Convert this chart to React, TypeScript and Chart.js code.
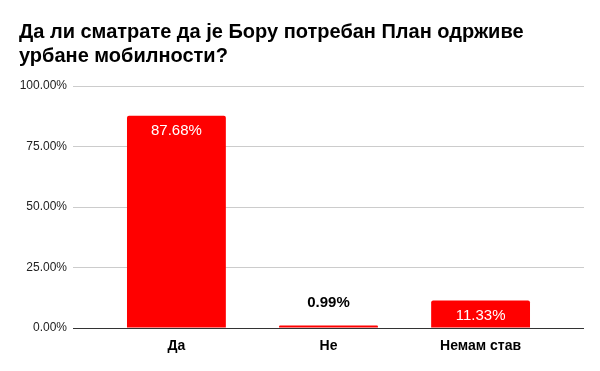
import React, { useEffect, useRef } from "react";
import { Chart, registerables } from "chart.js";

Chart.register(...registerables);

const categories = ["Да", "Не", "Немам став"];
const values = [87.68, 0.99, 11.33];
const valueLabels = ["87.68%", "0.99%", "11.33%"];
const yTicks = [0, 25, 50, 75, 100];
const titleLines = ["Да ли сматрате да је Бору потребан План одрживе", "урбане мобилности?"];

const FONT = "'Liberation Sans', Arial, sans-serif";

const dataLabelPlugin = {
  id: "dataLabels",
  afterDatasetsDraw(chart: any) {
    const ctx = chart.ctx;
    const meta = chart.getDatasetMeta(0);
    meta.data.forEach((bar: any, i: number) => {
      const h = bar.base - bar.y;
      ctx.save();
      ctx.textAlign = "center";
      ctx.textBaseline = "middle";
      if (h > 24) {
        ctx.font = "15px " + FONT;
        ctx.fillStyle = "#ffffff";
        ctx.fillText(valueLabels[i], bar.x, bar.y + 15);
      } else {
        ctx.font = "bold 15px " + FONT;
        ctx.fillStyle = "#000000";
        ctx.fillText(valueLabels[i], bar.x, bar.y - 23);
      }
      ctx.restore();
    });
  },
};

export default function App() {
  const ref = useRef<HTMLCanvasElement>(null);
  useEffect(() => {
    document.body.style.margin = "0";
    const chart = new Chart(ref.current!, {
      type: "bar",
      data: {
        datasets: [
          {
            data: values.map((v, i) => ({ x: i, y: v })),
            backgroundColor: "#ff0000",
            borderRadius: { topLeft: 2, topRight: 2, bottomLeft: 0, bottomRight: 0 },
            borderSkipped: "bottom",
            barPercentage: 0.65,
            categoryPercentage: 1,
          },
        ],
      },
      options: {
        animation: false,
        responsive: false,
        maintainAspectRatio: false,
        layout: { padding: { left: 19, right: 16, top: 0, bottom: 12 } },
        plugins: {
          legend: { display: false },
          tooltip: { enabled: false },
          title: {
            display: true,
            text: titleLines,
            align: "start",
            color: "#000000",
            font: { family: FONT, size: 20, weight: "bold", lineHeight: 1.2 },
            padding: { top: 20, bottom: 18 },
          },
        },
        scales: {
          x: {
            type: "linear",
            offset: false,
            min: -0.68,
            max: 2.68,
            afterBuildTicks: (s: any) => {
              s.ticks = categories.map((_, i) => ({ value: i }));
            },
            afterFit: (s: any) => {
              s.height = 31;
            },
            grid: { display: false, drawTicks: false },
            border: { display: false },
            ticks: {
              callback: (v: any) => categories[v] ?? "",
              color: "#000000",
              font: { family: FONT, size: 14, weight: "bold" },
              padding: 10,
              maxRotation: 0,
            },
          },
          y: {
            min: 0,
            max: 100,
            afterBuildTicks: (s: any) => {
              s.ticks = yTicks.map((v) => ({ value: v }));
            },
            afterFit: (s: any) => {
              s.width = 54;
            },
            grid: {
              color: (c: any) => (c.tick && c.tick.value === 0 ? "#333333" : "#cccccc"),
              drawTicks: false,
              lineWidth: 1,
            },
            border: { display: false },
            ticks: {
              callback: (v: any) => Number(v).toFixed(2) + "%",
              color: "#222222",
              font: { family: FONT, size: 12 },
              padding: 6,
            },
          },
        },
      },
      plugins: [dataLabelPlugin],
    } as any);
    return () => chart.destroy();
  }, []);
  return <canvas ref={ref} width={600} height={371} style={{ display: "block" }} />;
}
